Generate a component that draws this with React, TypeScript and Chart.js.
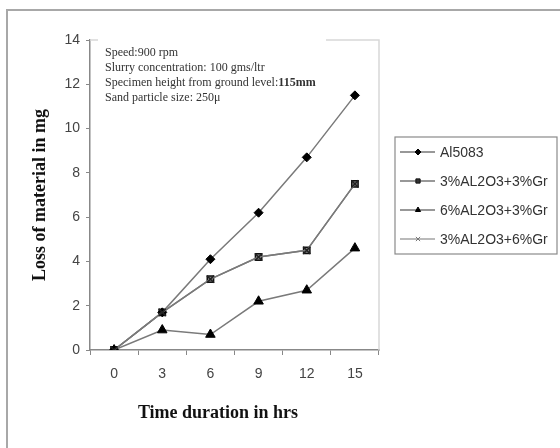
import React, { useEffect, useRef } from "react";
import { Chart, registerables } from "chart.js";
import { drawPoint } from "chart.js/helpers";

Chart.register(...registerables);

const hours = ["0", "3", "6", "9", "12", "15"];
const al5083 = [0, 1.7, 4.1, 6.2, 8.7, 11.5];
const al3gr3 = [0, 1.7, 3.2, 4.2, 4.5, 7.5];
const al6gr3 = [0, 0.9, 0.7, 2.2, 2.7, 4.6];
const al3gr6 = [0, 1.7, 3.2, 4.2, 4.5, 7.5];
const seriesNames = ["Al5083", "3%AL2O3+3%Gr", "6%AL2O3+3%Gr", "3%AL2O3+6%Gr"];
const yMin = 0;
const yMax = 14;
const yStep = 2;
const xTitle = "Time duration in hrs";
const yTitle = "Loss of material in mg";
const noteLines = [
  "Speed:900 rpm",
  "Slurry concentration: 100 gms/ltr",
  "Specimen height from ground level:",
  "Sand particle size: 250\u03bc",
];
const noteBold = "115mm";

const LINE = "#7a7a7a";

const styles = [
  { pointStyle: "rectRot", radius: 4.5, bg: "#000", bc: "#000", bw: 1, order: 1 },
  { pointStyle: "rect", radius: 4.5, bg: "#8a8a8a", bc: "#111", bw: 1.5, order: 1 },
  { pointStyle: "triangle", radius: 5.5, bg: "#000", bc: "#000", bw: 1, order: 1 },
  { pointStyle: "crossRot", radius: 5, bg: "#222", bc: "#222", bw: 1.5, order: 0 },
];

const decorPlugin = {
  id: "decor",
  beforeDatasetsDraw(chart: any) {
    const ctx = chart.ctx;
    const a = chart.chartArea;
    ctx.save();
    ctx.strokeStyle = "#d8d8d8";
    ctx.lineWidth = 1.5;
    ctx.beginPath();
    ctx.moveTo(a.left, a.top);
    ctx.lineTo(a.right, a.top);
    ctx.lineTo(a.right, a.bottom);
    ctx.stroke();
    ctx.fillStyle = "#fff";
    ctx.fillRect(a.left + 8, a.top - 4, 228, 68);
    ctx.fillStyle = "#333";
    ctx.font = "12px 'Liberation Serif', 'Times New Roman', serif";
    ctx.textBaseline = "middle";
    ctx.textAlign = "left";
    noteLines.forEach((t, i) => {
      const y = a.top + 13 + i * 15;
      ctx.fillText(t, a.left + 15, y);
      if (i === 2) {
        const w = ctx.measureText(t).width;
        ctx.font = "bold 12px 'Liberation Serif', 'Times New Roman', serif";
        ctx.fillText(noteBold, a.left + 15 + w, y);
        ctx.font = "12px 'Liberation Serif', 'Times New Roman', serif";
      }
    });
    ctx.restore();
  },
  afterDraw(chart: any) {
    const ctx = chart.ctx;
    const a = chart.chartArea;
    ctx.save();
    ctx.fillStyle = "#111";
    ctx.font = "bold 18px 'Liberation Serif', 'Times New Roman', serif";
    ctx.textAlign = "center";
    ctx.textBaseline = "middle";
    ctx.fillText(xTitle, 218, 413);
    ctx.translate(40, (a.top + a.bottom) / 2);
    ctx.rotate(-Math.PI / 2);
    ctx.fillText(yTitle, 0, 0);
    ctx.restore();

    ctx.save();
    const lx = 395, ly = 137, lw = 162, lh = 117;
    ctx.strokeStyle = "#8a8a8a";
    ctx.lineWidth = 1.2;
    ctx.strokeRect(lx, ly, lw, lh);
    ctx.font = "14px 'Liberation Sans', Arial, sans-serif";
    ctx.textBaseline = "middle";
    ctx.textAlign = "left";
    chart.data.datasets.forEach((ds: any, i: number) => {
      const y = ly + 15 + i * 29;
      ctx.strokeStyle = i === 3 ? "#777" : "#333";
      ctx.lineWidth = 1.2;
      ctx.beginPath();
      ctx.moveTo(lx + 5, y);
      ctx.lineTo(lx + 40, y);
      ctx.stroke();
      ctx.fillStyle = i === 1 ? "#333" : ds.pointBackgroundColor;
      ctx.strokeStyle = i === 3 ? "#777" : ds.pointBorderColor;
      ctx.lineWidth = 1;
      drawPoint(ctx, { pointStyle: ds.pointStyle, radius: 3, rotation: 0, borderWidth: 1 }, lx + 23, y);
      ctx.fillStyle = "#333";
      ctx.fillText(ds.label, lx + 45, y + 1);
    });
    ctx.restore();
  },
};

export default function App() {
  const ref = useRef<HTMLCanvasElement>(null);
  useEffect(() => {
    const series = [al5083, al3gr3, al6gr3, al3gr6];
    const chart = new Chart(ref.current as HTMLCanvasElement, {
      type: "line",
      data: {
        labels: hours,
        datasets: series.map((d, i) => ({
          label: seriesNames[i],
          data: d,
          order: styles[i].order,
          borderColor: LINE,
          borderWidth: 1.5,
          pointStyle: styles[i].pointStyle as any,
          pointRadius: styles[i].radius,
          pointBackgroundColor: styles[i].bg,
          pointBorderColor: styles[i].bc,
          pointBorderWidth: styles[i].bw,
          tension: 0,
          fill: false,
        })),
      },
      options: {
        animation: false,
        responsive: false,
        layout: { padding: { left: 50, top: 40, right: 181, bottom: 0 } },
        plugins: { legend: { display: false }, tooltip: { enabled: false } },
        scales: {
          x: {
            type: "category",
            offset: true,
            grid: { display: true, drawOnChartArea: false, offset: true, tickLength: 5, color: "#888" },
            border: { color: "#888", width: 1.5 },
            ticks: { color: "#444", font: { family: "'Liberation Sans', Arial, sans-serif", size: 14 }, padding: 11, maxRotation: 0 },
            afterFit: (s: any) => { s.height = 98; },
          },
          y: {
            min: yMin,
            max: yMax,
            ticks: { stepSize: yStep, color: "#444", font: { family: "'Liberation Sans', Arial, sans-serif", size: 14 }, padding: 6 },
            grid: { display: true, drawOnChartArea: false, tickLength: 4, color: "#888" },
            border: { color: "#888", width: 1.5 },
            afterFit: (s: any) => { s.width = 40; },
          },
        },
      },
      plugins: [decorPlugin],
    });
    return () => chart.destroy();
  }, []);
  return (
    <div style={{ position: "fixed", left: 0, top: 0, width: 560, height: 448, overflow: "hidden", background: "#fff" }}>
      <div style={{ position: "absolute", left: 6, top: 9, width: 600, height: 500, border: "2px solid #a8a8a8", boxSizing: "border-box" }} />
      <canvas ref={ref} width={560} height={448} style={{ position: "absolute", left: 0, top: 0 }} />
    </div>
  );
}
